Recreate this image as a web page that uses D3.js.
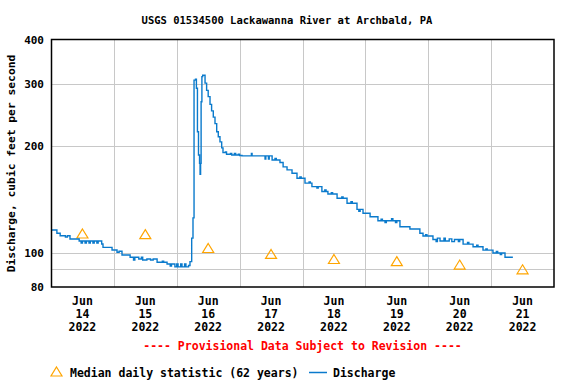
<!DOCTYPE html>
<html lang="en">
<head>
<meta charset="UTF-8">
<script src="https://cdn.jsdelivr.net/npm/d3@7"></script>
<title>USGS 01534500 Lackawanna River at Archbald, PA</title>
<style>
    body { margin: 0; background: #fff; }
    svg text { font-family: "DejaVu Sans Mono", monospace; font-weight: bold; }
</style>
</head>
<body>
<div id="chart"></div>
<script>
// hours since Jun 14 2022 00:00 where the reading changes, and the discharge (cfs)
const hours = [0, 2.25, 3.5, 5.5, 6.25, 7.25, 10.75, 11.5, 12, 13, 13.5, 14.5, 15, 16, 16.5, 17.5, 18,
    19.35, 19.85, 23.3, 25.2, 26, 27.1, 30.2, 31.5, 32, 33.5, 34.5, 35, 36.6, 38, 39, 40.5, 42.5, 43,
    44.3, 45.5, 46, 47.3, 48, 48.5, 49.5, 50, 51, 51.5, 52.5, 53.05, 53.7, 54.2, 54.6, 55.15, 55.5,
    55.9, 56.3, 56.7, 56.9, 57.1, 57.3, 57.6, 57.9, 58.8, 59.4, 60, 60.7, 61.3, 61.95, 62.6, 63.25,
    63.85, 64.5, 65.15, 65.65, 66.5, 67, 68.5, 69, 70, 70.5, 71.5, 72, 72.9, 76.5, 76.75, 81.7, 82,
    83, 83.3, 84.4, 85.5, 86, 87.4, 88.6, 90.1, 92, 93.9, 95, 95.5, 96.95, 98.5, 99, 99.6, 101.5, 102,
    103.4, 104.5, 105, 105.7, 107, 107.5, 109.2, 111, 111.5, 113, 114.5, 115, 116.8, 117.5, 118,
    119.1, 121.8, 124.8, 126, 126.5, 127.5, 128, 130, 130.5, 131.5, 132, 133.2, 137, 140.8, 142, 143,
    143.5, 145.8, 147, 147.5, 148.5, 150, 150.5, 152, 153, 154, 155.5, 156, 157.3, 159, 159.5, 161.1,
    162.5, 163, 164.9, 166, 166.5, 168.7, 170, 170.5, 171.5, 172, 173.3, 176.3];
const discharge = [116, 113.5, 111.7, 110.8, 111.7, 109.4, 108, 106.5, 108, 106.5, 108, 106.5, 108, 106.5, 108, 106.5, 108,
    105.9, 103.6, 101.8, 100.3, 101, 98.5, 97.1, 95.4, 97.1, 96, 97.1, 95.4, 96, 95.4, 96, 94, 94.6, 94,
    92.9, 91.7, 92.9, 91.2, 92.9, 91.2, 92.9, 91.2, 92.9, 91.2, 92, 94.4, 110, 125.5, 308, 310, 292,
    220, 189, 179, 166.6, 179, 267.6, 315, 318, 302, 288, 276.5, 263, 252, 242, 232, 220,
    213, 206, 198, 192, 193, 190, 191, 189, 191, 189, 190, 188.5, 188, 191, 188, 184, 188,
    184, 188, 183, 185, 183, 180, 175, 171.6, 167.8, 162.5, 164, 162.5, 157.4, 158.5, 157.4, 153.9, 152.5, 153.9,
    149.1, 150.5, 149.1, 146.6, 147.8, 146.6, 142.6, 143.8, 142.6, 138, 139.5, 138, 132.7, 131, 132.7,
    129.3, 126.5, 123.2, 124.5, 123.2, 121.8, 123.2, 124.8, 123.2, 121.8, 123.2, 118.5, 116.7, 113.5, 111.5, 112.5,
    111.5, 109, 107.5, 110, 108, 110, 108, 109.5, 107.5, 109, 107.5, 109, 105.8, 107, 105.8, 104,
    105, 104, 101.7, 102.5, 101.7, 99.8, 100.8, 99.8, 98.8, 99.8, 97.1, 97.1];

// median daily statistic, plotted at noon of each day
const medianDays = ["2022-06-14", "2022-06-15", "2022-06-16", "2022-06-17", "2022-06-18", "2022-06-19", "2022-06-20", "2022-06-21"];
const medianValues = [113, 112.5, 102.8, 98.9, 95.7, 94.4, 92.3, 89.5];

const yTicks = [80, 100, 200, 300, 400];
const yGrid = [90, 100, 200, 300];

const width = 576, height = 384;
const margin = { top: 40, right: 22, bottom: 97, left: 51 };

const parseDay = d3.utcParse("%Y-%m-%d");
const start = parseDay("2022-06-14");
const end = parseDay("2022-06-22");
const hourMs = 3600 * 1000;

const series = hours.map((h, i) => ({ date: new Date(start.getTime() + h * hourMs), v: discharge[i] }));
const medians = medianDays.map((d, i) => ({ date: new Date(parseDay(d).getTime() + 12 * hourMs), v: medianValues[i] }));

const svg = d3.select("#chart").append("svg").attr("width", width).attr("height", height);

const x = d3.scaleUtc().domain([start, end]).range([margin.left, width - margin.right]);
const y = d3.scaleLog().domain([80, 400]).range([height - margin.bottom, margin.top]);

// title
svg.append("text").attr("x", 287).attr("y", 24).attr("text-anchor", "middle")
    .style("font-size", "10.5px").text("USGS 01534500 Lackawanna River at Archbald, PA");

// grid
const days = d3.utcDay.range(start, end).slice(1);
svg.append("g").selectAll("line").data(days).enter().append("line")
    .attr("x1", d => Math.round(x(d)) + 0.5).attr("x2", d => Math.round(x(d)) + 0.5)
    .attr("y1", margin.top).attr("y2", height - margin.bottom)
    .attr("stroke", "#c8c8c8").attr("stroke-width", 1);
svg.append("g").selectAll("line").data(yGrid).enter().append("line")
    .attr("x1", margin.left).attr("x2", width - margin.right)
    .attr("y1", d => Math.round(y(d)) + 0.5).attr("y2", d => Math.round(y(d)) + 0.5)
    .attr("stroke", "#c8c8c8").attr("stroke-width", 1);

// medians
const tri = d => `M0,-5L5.5,4L-5.5,4Z`;
svg.append("g").selectAll("path").data(medians).enter().append("path")
    .attr("transform", d => `translate(${x(d.date)},${y(d.v)})`)
    .attr("d", tri).attr("fill", "none").attr("stroke", "#ffa500").attr("stroke-width", 1.2);

// discharge line
const line = d3.line().x(d => x(d.date)).y(d => y(d.v)).curve(d3.curveStepAfter);
svg.append("path").datum(series).attr("d", line)
    .attr("fill", "none").attr("stroke", "#0a7acc").attr("stroke-width", 1.4);

// frame
svg.append("rect").attr("x", margin.left + 0.5).attr("y", margin.top - 0.5)
    .attr("width", width - margin.left - margin.right - 0.5).attr("height", height - margin.top - margin.bottom + 0.5)
    .attr("fill", "none").attr("stroke", "#000").attr("stroke-width", 1.5);

// y tick labels
svg.append("g").selectAll("text").data(yTicks).enter().append("text")
    .attr("x", 44).attr("y", d => y(d) + 4).attr("text-anchor", "end")
    .style("font-size", "11px").text(d => d);

// x tick labels at noon
const xlab = svg.append("g").selectAll("text").data(medians).enter().append("text")
    .attr("text-anchor", "middle").style("font-size", "11.5px");
const fmtLines = [d3.utcFormat("%b"), d3.utcFormat("%d"), d3.utcFormat("%Y")];
fmtLines.forEach((f, i) => {
    xlab.append("tspan").attr("x", d => x(d.date)).attr("y", 305 + i * 13).text(d => f(d.date));
});

// y axis title
svg.append("text").attr("transform", `translate(15,${(margin.top + height - margin.bottom) / 2}) rotate(-90)`)
    .attr("text-anchor", "middle").style("font-size", "11.3px").text("Discharge, cubic feet per second");

// provisional note
svg.append("text").attr("x", (margin.left + width - margin.right) / 2).attr("y", 350)
    .attr("text-anchor", "middle").attr("fill", "#ff0000").style("font-size", "11.5px")
    .text("---- Provisional Data Subject to Revision ----");

// legend
svg.append("path").attr("transform", "translate(56.5,372)").attr("d", tri)
    .attr("fill", "none").attr("stroke", "#ffa500").attr("stroke-width", 1.2);
svg.append("text").attr("x", 70).attr("y", 377).style("font-size", "11.5px").text("Median daily statistic (62 years)");
svg.append("line").attr("x1", 309).attr("x2", 327).attr("y1", 372.5).attr("y2", 372.5)
    .attr("stroke", "#0a7acc").attr("stroke-width", 1.5);
svg.append("text").attr("x", 333).attr("y", 377).style("font-size", "11.5px").text("Discharge");
</script>
</body>
</html>
